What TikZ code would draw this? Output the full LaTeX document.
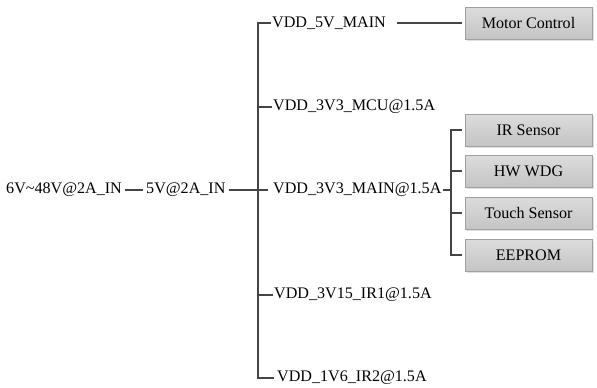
\documentclass[tikz,border=0pt]{standalone}
\usepackage{fontspec}
\setmainfont{Liberation Serif}
\usetikzlibrary{positioning,shadows}
\definecolor{Wire}{HTML}{454545}
\definecolor{BoxEdge}{HTML}{A0A0A0}
\definecolor{BoxTop}{HTML}{DCDCDC}
\definecolor{BoxBot}{HTML}{C4C4C4}
\tikzset{
  rail/.style={font=\fontsize{16.1}{18}\selectfont,inner sep=1pt,anchor=west},
  load/.style={draw=BoxEdge,line width=0.6pt,top color=BoxTop,bottom color=BoxBot,
    minimum width=127pt,minimum height=32pt,font=\fontsize{16.1}{18}\selectfont,
    drop shadow={shadow xshift=2pt,shadow yshift=-2pt,fill=black!25}},
  wire/.style={draw=Wire,line width=1.4pt},
}
\begin{document}
\begin{tikzpicture}[x=1pt,y=-1pt,line join=miter]
\useasboundingbox (0,0) rectangle (597,388);
% input chain
\node[rail] (vin) at (5,190) {6V\textasciitilde48V@2A\_IN};
\node[rail] (v5in) at (145,190) {5V@2A\_IN};
% rails
\node[rail] (r5main) at (271,23) {VDD\_5V\_MAIN};
\node[rail] (r3mcu) at (272,107) {VDD\_3V3\_MCU@1.5A};
\node[rail] (r3main) at (272,190) {VDD\_3V3\_MAIN@1.5A};
\node[rail] (r3ir) at (273,295) {VDD\_3V15\_IR1@1.5A};
\node[rail] (r1ir) at (276,378) {VDD\_1V6\_IR2@1.5A};
% loads
\node[load] (motor) at (528.5,23) {Motor Control};
\node[load] (irs) at (528.5,130) {IR Sensor};
\node[load] (hwdg) at (528.5,171) {HW WDG};
\node[load] (touch) at (528.5,213) {Touch Sensor};
\node[load] (eeprom) at (528.5,255) {EEPROM};
\coordinate (trunk) at (258,0);
\coordinate (fork) at (451,0);
% wiring
\draw[wire] ([xshift=2pt]vin.east) -- ([xshift=-2pt]v5in.west);
\draw[wire] ([xshift=2pt]v5in.east) -- ([xshift=-4pt]r3main.west);
\draw[wire] (r5main.west) -- (r5main.west -| trunk) -- (r1ir.west -| trunk) -- ([xshift=-2pt]r1ir.west);
\draw[wire] (r3mcu.west -| trunk) -- (r3mcu.west);
\draw[wire] (r3ir.west -| trunk) -- (r3ir.west);
\draw[wire] ([xshift=10pt]r5main.east) -- ([xshift=-3pt]motor.west);
\draw[wire] (r3main.east) -- (r3main.east -| fork);
\draw[wire] ([xshift=-3pt]irs.west) -- (irs.west -| fork) -- (eeprom.west -| fork) -- ([xshift=-3pt]eeprom.west);
\draw[wire] (hwdg.west -| fork) -- ([xshift=-3pt]hwdg.west);
\draw[wire] (touch.west -| fork) -- ([xshift=-3pt]touch.west);
\end{tikzpicture}
\end{document}
